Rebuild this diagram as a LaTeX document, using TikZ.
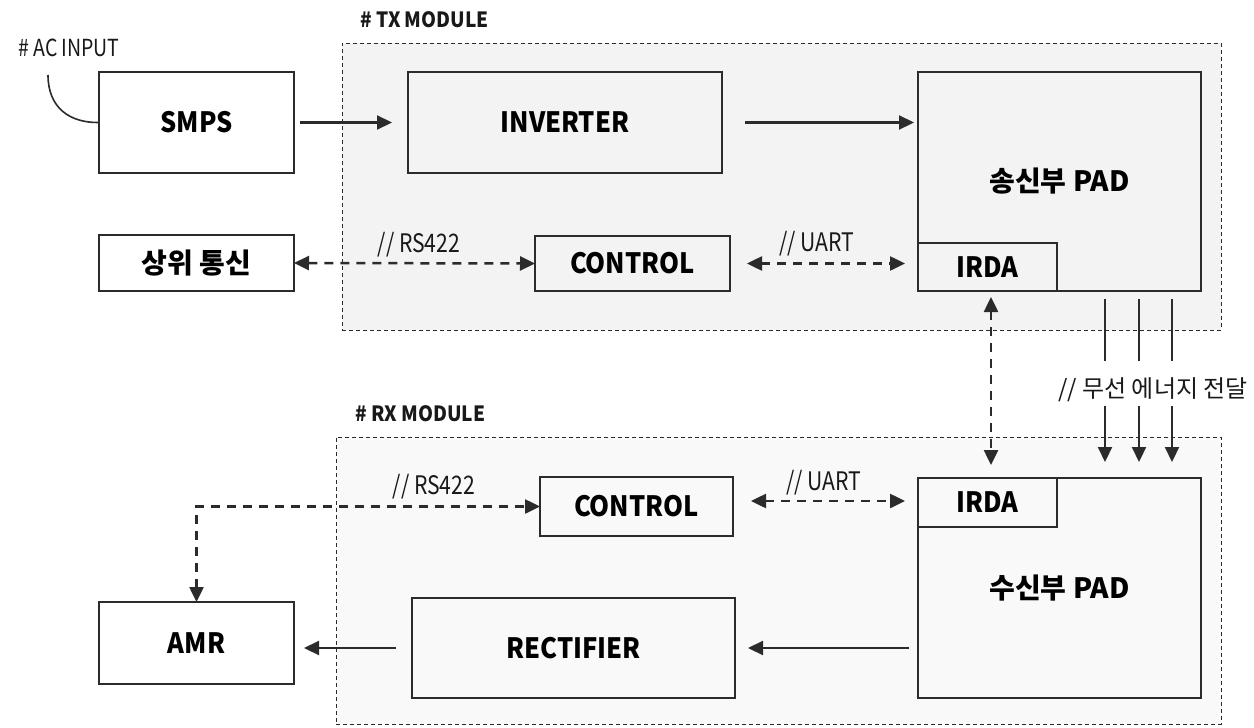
\documentclass[tikz,border=0pt]{standalone}
\usepackage{fontspec}
\setmainfont{Noto Sans CJK KR}
% narrower cuts of the same family for Latin-only labels
\newfontfamily\latinc[FakeStretch=0.91]{Noto Sans CJK KR}
\newfontfamily\latinn[FakeStretch=0.83]{Noto Sans CJK KR}
\usetikzlibrary{arrows.meta}
\definecolor{ink}{HTML}{2B2B2B}
\definecolor{txfill}{HTML}{F3F3F3}
\definecolor{rxfill}{HTML}{F9F9F9}
\begin{document}
\begin{tikzpicture}[x=1pt,y=-1pt,
  blk/.style={draw=ink, line width=2.4pt, inner sep=0pt, outer sep=0pt,
    font=\fontsize{28}{32}\selectfont\bfseries, text=black},
  lat/.style={font=\latinc\fontsize{28}{32}\selectfont\bfseries},
  module/.style={draw=ink, line width=1pt, dash pattern=on 4pt off 3pt,
    inner sep=0pt, outer sep=0pt},
  lbl/.style={font=\fontsize{24}{28}\selectfont, text=black!90, inner sep=0pt},
  latlbl/.style={lbl, font=\latinn\fontsize{25.5}{28}\selectfont},
  hdr/.style={font=\latinc\fontsize{21}{24}\selectfont\bfseries, text=black!90, inner sep=0pt},
  flow/.style={draw=ink, line width=2.2pt, -{Triangle[length=15pt,width=14pt]}},
  link/.style={draw=ink, line width=2.5pt, dash pattern=on 9pt off 7pt,
    {Triangle[length=15pt,width=14pt]}-{Triangle[length=15pt,width=14pt]}},
  wave/.style={draw=ink, line width=2.2pt}
]
\useasboundingbox (0,0) rectangle (1254,728);

% module frames
\node[module, fill=txfill, minimum width=879, minimum height=287] (txmod) at (781.5,186.5) {};
\node[module, fill=rxfill, minimum width=885, minimum height=287] (rxmod) at (778.5,580.5) {};
\node[hdr, anchor=west] (txhdr) at (360,20) {\# TX MODULE};
\node[hdr, anchor=west] (rxhdr) at (355,414) {\# RX MODULE};
\node[latlbl, anchor=west, font=\latinn\fontsize{23.5}{26}\selectfont] (achdr) at (18,48) {\# AC\,INPUT};

% outside blocks
\node[blk, lat, fill=white, minimum width=195, minimum height=101] (smps) at (196.5,122.5) {SMPS};
\node[blk, fill=white, minimum width=195, minimum height=56] (upper) at (196.5,263) {상위 통신};
\node[blk, lat, fill=white, minimum width=195, minimum height=82] (amr) at (196.5,643) {AMR};

% TX module blocks
\node[blk, lat, minimum width=314, minimum height=101] (inv) at (565,122.5) {INVERTER};
\node[blk, lat, minimum width=195, minimum height=55] (txctl) at (632.5,263.5) {CONTROL};
\node[blk, minimum width=283, minimum height=219] (txpad) at (1059.5,181.5) {송신부 PAD};
\node[blk, lat, minimum width=139, minimum height=48] (txirda) at (987.5,267) {IRDA};

% RX module blocks
\node[blk, lat, minimum width=193, minimum height=59] (rxctl) at (636.5,506.5) {CONTROL};
\node[blk, minimum width=283, minimum height=220] (rxpad) at (1059.5,588) {수신부 PAD};
\node[blk, lat, minimum width=139, minimum height=49] (rxirda) at (987.5,502.5) {IRDA};
\node[blk, lat, minimum width=323, minimum height=100] (rect) at (573.5,648) {RECTIFIER};

% AC input lead
\coordinate (acin) at (48,75);
\draw[ink, line width=1.6pt] (acin) .. controls (48,108) and (70,123) .. (smps.west);

% power path
\draw[flow] ([xshift=6]smps.east) -- ([xshift=-16]inv.west);
\draw[flow] ([xshift=23]inv.east) -- ([xshift=-4]inv.east -| txpad.west);
\draw[flow] ([xshift=-9]rect.east -| rxpad.west) -- ([xshift=13]rect.east);
\draw[flow] ([xshift=-16]rect.west) -- ([xshift=10]rect.west -| amr.east);

% TX communication
\draw[link] (upper.east) -- (txctl.west);
\node[latlbl] (txrs) at (419,245) {// RS422};
\draw[link] ([xshift=17]txctl.east) -- ([xshift=-13]txctl.east -| txpad.west);
\node[latlbl] (txuart) at (817,244) {// UART};

% RX communication
\draw[link] (amr.north) |- (rxctl.west);
\node[latlbl] (rxrs) at (434,487) {// RS422};
\draw[link] ([xshift=18,yshift=5.5]rxctl.east) -- ([xshift=-13,yshift=5.5]rxctl.east -| rxpad.west);
\node[latlbl] (rxuart) at (824,483) {// UART};

% IRDA link between pads
\draw[link] ([xshift=3.5,yshift=-6]txirda.south) -- ([xshift=3.5,yshift=13]rxirda.north);

% wireless energy transfer
\node[lbl] (wl) at (1153,390) {// 무선 에너지 전달};
\foreach \dx in {45.5,79.5,112.5}{
  \draw[wave] ([xshift=\dx,yshift=-8]txpad.south) -- ++(0,62);
  \draw[flow] ([xshift=\dx,yshift=72]rxpad.north) -- ([xshift=\dx,yshift=16]rxpad.north);
}
\end{tikzpicture}
\end{document}
